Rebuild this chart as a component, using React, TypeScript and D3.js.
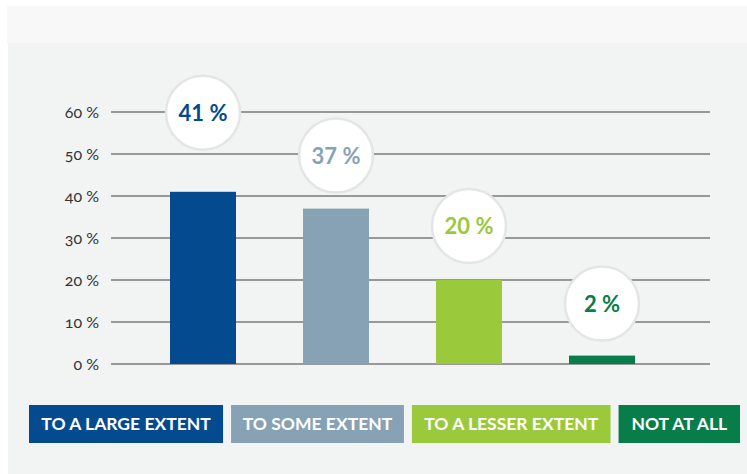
import React from "react";
import * as d3 from "d3";

const categories = ["TO A LARGE EXTENT", "TO SOME EXTENT", "TO A LESSER EXTENT", "NOT AT ALL"];
const values = [41, 37, 20, 2];
const colors = ["#034a8f", "#87a2b4", "#9bc93c", "#077d4a"];
const yTicks = [0, 10, 20, 30, 40, 50, 60];

const W = 747;
const H = 474;
const FONT = "Lato, 'Open Sans', sans-serif";

function measure(text: string, font: string): number {
  if (typeof document === "undefined") return text.length * 10;
  const c = document.createElement("canvas");
  const ctx = c.getContext("2d");
  if (!ctx) return text.length * 10;
  ctx.font = font;
  return ctx.measureText(text).width;
}

export default function App() {
  const y = d3.scaleLinear().domain([0, 60]).range([364, 112]);
  const x = d3.scalePoint<string>().domain(categories).range([203, 602]);
  const barW = 66;
  const r = 37;
  // vertical lift of each value bubble above its bar top (px)
  const lift = [79, 53, 54, 52];

  const legendSize = 17.5;
  const legendFont = `bold ${legendSize}px ${FONT}`;
  const legendX0 = 29;
  const legendX1 = 740;
  const gap = 8;
  const tws = categories.map((c) => measure(c, legendFont));
  const sumTw = tws.reduce((a, b) => a + b, 0);
  const pad = (legendX1 - legendX0 - gap * (categories.length - 1) - sumTw) / (2 * categories.length);
  let lx = legendX0;
  const legend = categories.map((c, i) => {
    const w = tws[i] + 2 * pad;
    const item = { c, x: lx, w, color: colors[i] };
    lx += w + gap;
    return item;
  });

  return (
    <svg
      width={W}
      height={H}
      style={{ position: "absolute", left: 0, top: 0, display: "block" }}
    >
      <rect x={0} y={0} width={W} height={H} fill="#ffffff" />
      <rect x={7} y={6} width={W - 7} height={37} fill="#f8f8f8" />
      <rect x={8} y={43} width={W - 8} height={H - 43} fill="#f2f3f3" />

      {yTicks.map((t) => (
        <g key={t}>
          <line x1={111} x2={710} y1={y(t)} y2={y(t)} stroke="#7a7a7a" strokeWidth={1.5} />
          <text
            x={99}
            y={y(t)}
            dy="0.35em"
            textAnchor="end"
            fontFamily={FONT}
            fontSize={16}
            fill="#333"
            style={{ fontVariantNumeric: "oldstyle-nums" }}
          >
            {`${t} %`}
          </text>
        </g>
      ))}

      {categories.map((c, i) => (
        <rect
          key={c}
          x={(x(c) as number) - barW / 2}
          y={y(values[i])}
          width={barW}
          height={y(0) - y(values[i])}
          fill={colors[i]}
        />
      ))}

      {categories.map((c, i) => {
        const cx = x(c) as number;
        const cy = y(values[i]) - lift[i];
        return (
          <g key={c + "b"}>
            <circle cx={cx} cy={cy} r={r} fill="#ffffff" stroke="#e4e5e5" strokeWidth={2.5} />
            <text
              x={cx}
              y={cy}
              dy="0.36em"
              textAnchor="middle"
              fontFamily={FONT}
              fontWeight="bold"
              fontSize={22}
              fill={colors[i]}
            >
              {`${values[i]} %`}
            </text>
          </g>
        );
      })}

      {legend.map((l) => (
        <g key={l.c + "l"}>
          <rect x={l.x} y={405} width={l.w} height={38} fill={l.color} />
          <text
            x={l.x + l.w / 2}
            y={424}
            dy="0.36em"
            textAnchor="middle"
            fontFamily={FONT}
            fontWeight="bold"
            fontSize={legendSize}
            fill="#ffffff"
          >
            {l.c}
          </text>
        </g>
      ))}
    </svg>
  );
}
